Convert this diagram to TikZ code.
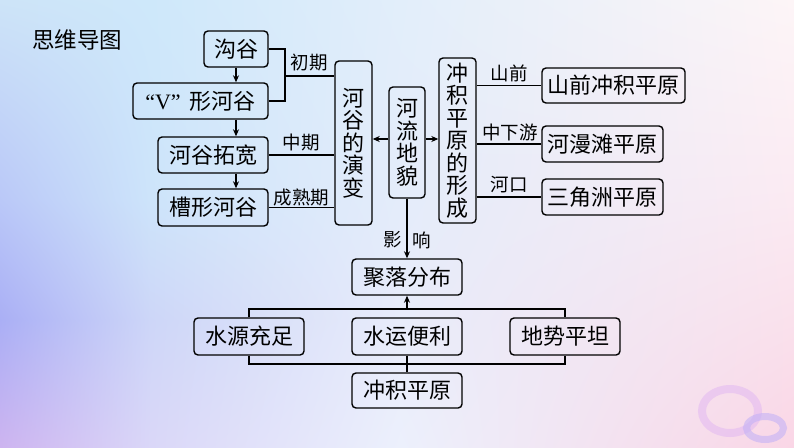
\documentclass[tikz,border=0pt]{standalone}
\usepackage{fontspec}
\setmainfont{Noto Sans CJK SC}
\newfontfamily\latserif{Liberation Serif}
\usetikzlibrary{arrows.meta,calc,shadings}
% background control colours (rows y=0,200,320,447; columns x=0,150,400,794)
\definecolor{a0}{RGB}{205,228,248}\definecolor{a1}{RGB}{206,232,250}\definecolor{a2}{RGB}{226,238,250}\definecolor{a3}{RGB}{253,245,247}
\definecolor{b0}{RGB}{186,200,248}\definecolor{b1}{RGB}{205,228,250}\definecolor{b2}{RGB}{228,236,250}\definecolor{b3}{RGB}{251,234,242}
\definecolor{c0}{RGB}{170,175,245}\definecolor{c1}{RGB}{205,214,248}\definecolor{c2}{RGB}{232,236,250}\definecolor{c3}{RGB}{250,225,236}
\definecolor{d0}{RGB}{205,180,240}\definecolor{d1}{RGB}{218,215,248}\definecolor{d2}{RGB}{236,240,252}\definecolor{d3}{RGB}{250,214,230}
\definecolor{ringA}{RGB}{226,184,242}
\definecolor{ringB}{RGB}{196,178,246}
\newcommand{\bgpatch}[8]{\shade[upper left=#5,upper right=#6,lower left=#7,lower right=#8] (#1,#2) rectangle (#3,#4);}
\tikzset{
  box/.style={draw=black,line width=1.4pt,rounded corners=4pt,inner sep=0pt,
    font=\fontsize{22}{22.5}\selectfont,align=center},
  lab/.style={font=\fontsize{18.5}{20}\selectfont,inner sep=0pt},
  conn/.style={line width=1.4pt,draw=black},
  arr/.style={conn,-{Stealth[length=7pt,width=6pt]}}
}
\begin{document}
\begin{tikzpicture}[x=1pt,y=-1pt]
\useasboundingbox (0,0) rectangle (794,447);
\bgpatch{0}{0}{150.5}{200.5}{a0}{a1}{b0}{b1}
\bgpatch{150}{0}{400.5}{200.5}{a1}{a2}{b1}{b2}
\bgpatch{400}{0}{794}{200.5}{a2}{a3}{b2}{b3}
\bgpatch{0}{200}{150.5}{320.5}{b0}{b1}{c0}{c1}
\bgpatch{150}{200}{400.5}{320.5}{b1}{b2}{c1}{c2}
\bgpatch{400}{200}{794}{320.5}{b2}{b3}{c2}{c3}
\bgpatch{0}{320}{150.5}{447}{c0}{c1}{d0}{d1}
\bgpatch{150}{320}{400.5}{447}{c1}{c2}{d1}{d2}
\bgpatch{400}{320}{794}{447}{c2}{c3}{d2}{d3}
% decorative rings
\draw[ringA,line width=8pt,opacity=0.55] (730,411) ellipse [x radius=28,y radius=22];
\draw[ringB,line width=7pt,opacity=0.6] (765,428) ellipse [x radius=18.5,y radius=11.5];
% title
\node[font=\fontsize{22.5}{24}\selectfont,inner sep=0pt] (title) at (77,40) {思维导图};
% left column
\node[box,minimum width=64,minimum height=36] (gou) at (236,49) {沟谷};
\node[box,minimum width=135,minimum height=36] (vgu) at (200.5,101) {{\latserif “V”}\hspace{9pt}形河谷};
\node[box,minimum width=110,minimum height=36] (tuo) at (213,155) {河谷拓宽};
\node[box,minimum width=110,minimum height=37] (cao) at (213,207.5) {槽形河谷};
% vertical boxes
\node[box,minimum width=37,minimum height=164] (yan) at (353.5,143) {河\\谷\\的\\演\\变};
\node[box,minimum width=36,minimum height=111] (dimao) at (407,142.5) {河\\流\\地\\貌};
\node[box,minimum width=37,minimum height=165] (xing) at (457.5,140.5) {冲\\积\\平\\原\\的\\形\\成};
% right column
\node[box,minimum width=143,minimum height=35] (sq) at (613.5,85.5) {山前冲积平原};
\node[box,minimum width=121,minimum height=36] (hm) at (602.5,144) {河漫滩平原};
\node[box,minimum width=121,minimum height=36] (sj) at (602.5,197) {三角洲平原};
% bottom part
\node[box,minimum width=110,minimum height=36] (jl) at (407,277) {聚落分布};
\node[box,minimum width=110,minimum height=37] (sy) at (249,336.5) {水源充足};
\node[box,minimum width=110,minimum height=37] (yy) at (407,336.5) {水运便利};
\node[box,minimum width=110,minimum height=37] (ds) at (565,336.5) {地势平坦};
\node[box,minimum width=110,minimum height=35] (cj) at (407,390.5) {冲积平原};
% left connectors
\draw[arr] (gou.south) -- (gou.south |- vgu.north);
\draw[arr] (gou.south |- vgu.south) -- (gou.south |- tuo.north);
\draw[arr] (gou.south |- tuo.south) -- (gou.south |- cao.north);
\coordinate (bk) at (285,76);
\draw[conn] (gou.east) -| (bk) |- (vgu.east);
\draw[conn] (bk) -- (bk -| yan.west);
\node[lab] (l1) at (309,63) {初期};
\draw[conn] (tuo.east) -- (tuo.east -| yan.west);
\node[lab] (l2) at (301,143) {中期};
\draw[conn] (cao.east) -- (cao.east -| yan.west);
\node[lab] (l3) at (301.5,197) {成熟期};
% centre arrows
\coordinate (ca) at (407,139);
\draw[arr] (ca -| dimao.west) -- (ca -| yan.east);
\draw[arr] (ca -| dimao.east) -- (ca -| xing.west);
% right connectors
\draw[conn] (xing.east |- sq.west) -- (sq.west);
\node[lab] (l4) at (509,73) {山前};
\draw[conn] (xing.east |- hm.west) -- (hm.west);
\node[lab] (l5) at (510,132) {中下游};
\draw[conn] (xing.east |- sj.west) -- (sj.west);
\node[lab] (l6) at (509,185) {河口};
% influence
\draw[arr] (dimao.south) -- (jl.north);
\node[lab] (l7) at (393,240) {影};
\node[lab] (l8) at (422,240) {响};
% brackets
\coordinate (tb) at (407,309);
\coordinate (bb) at (407,364);
\draw[conn] (sy.north) -- (sy.north |- tb) -- (ds.north |- tb) -- (ds.north);
\draw[arr] (tb) -- (jl.south);
\draw[conn] (sy.south) -- (sy.south |- bb) -- (ds.south |- bb) -- (ds.south);
\draw[conn] (yy.south) -- (cj.north);
\end{tikzpicture}
\end{document}
